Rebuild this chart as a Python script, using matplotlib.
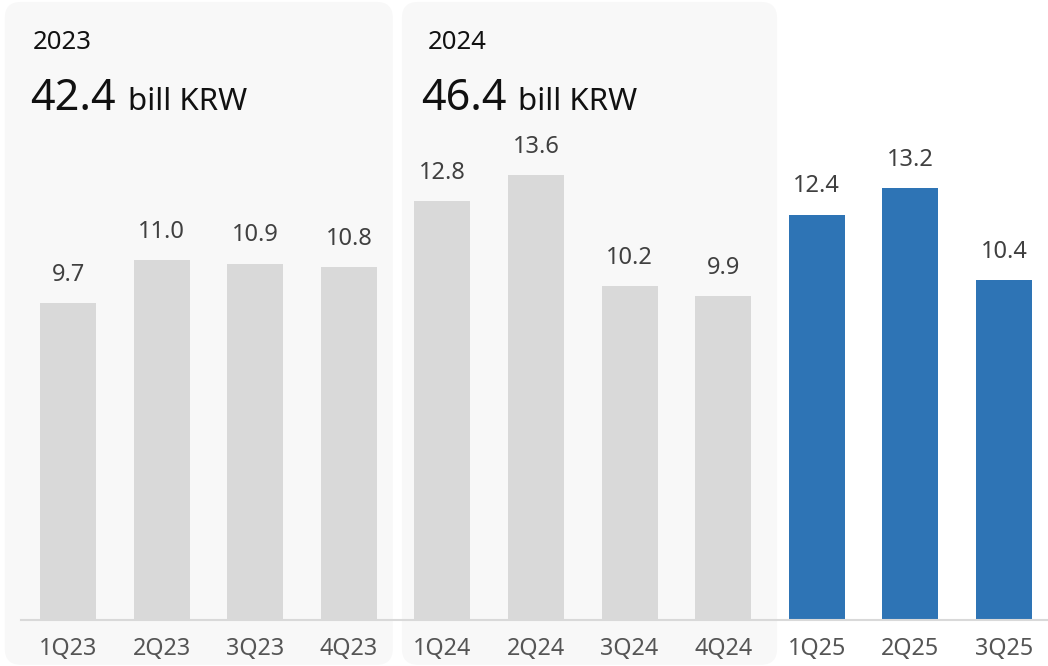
import matplotlib.pyplot as plt
from matplotlib.patches import FancyBboxPatch

plt.rcParams['font.family'] = ['Noto Sans', 'DejaVu Sans']

quarters = ['1Q23', '2Q23', '3Q23', '4Q23', '1Q24', '2Q24', '3Q24', '4Q24',
            '1Q25', '2Q25', '3Q25']
revenue = [9.7, 11.0, 10.9, 10.8, 12.8, 13.6, 10.2, 9.9, 12.4, 13.2, 10.4]
years = ['2023', '2024']
year_totals = ['42.4', '46.4']

GREY = '#d9d9d9'
BLUE = '#2e74b5'
W, H = 1048, 666

fig = plt.figure(figsize=(W / 100, H / 100), dpi=100)
ax = fig.add_axes([0, 0, 1, 1])
ax.set_xlim(-0.7265, 10.47)
ax.set_ylim(-1.407, 18.96)
ax.axis('off')

# pixels per data unit, used to keep the rounded corners round
px_x = W / (10.47 + 0.7265)
px_y = H / (18.96 + 1.407)
aspect = px_x / px_y

# background panels for the full years
for x0, x1 in [(-0.675, 3.47), (3.568, 7.575)]:
    panel = FancyBboxPatch((x0, -1.37), x1 - x0, 18.9 - (-1.37),
                           boxstyle='round,pad=0,rounding_size=0.17',
                           mutation_aspect=aspect,
                           facecolor='#f8f8f8', edgecolor='none', zorder=0)
    ax.add_patch(panel)

x = list(range(len(quarters)))
colors = [BLUE if q.endswith('25') else GREY for q in quarters]
bars = ax.bar(x, revenue, width=0.6, color=colors, zorder=2)

for b, v in zip(bars, revenue):
    ax.annotate(f'{v:.1f}', (b.get_x() + b.get_width() / 2, v),
                xytext=(0, 16), textcoords='offset points',
                ha='center', va='baseline', fontsize=17, color='#404040')

# baseline
ax.plot([-0.5, 10.47], [0, 0], color='#d9d9d9', lw=1.5, zorder=3)

for xi, q in zip(x, quarters):
    ax.annotate(q, (xi, 0), xytext=(0, -25.2), textcoords='offset points',
                ha='center', va='baseline', fontsize=16.8, color='#555555')

# year headers (pixel positions of the reference layout)
headers = [(33, 30, 128), (428, 421, 518)]
for (yx, tx, ux), yr, tot in zip(headers, years, year_totals):
    fig.text(yx / W, 1 - 49 / H, yr, fontsize=18.5, color='#111111',
             ha='left', va='baseline')
    fig.text(tx / W, 1 - 110 / H, tot, fontsize=31, color='#111111',
             ha='left', va='baseline')
    fig.text(ux / W, 1 - 110 / H, 'bill KRW', fontsize=22.5, color='#111111',
             ha='left', va='baseline')

fig.savefig('out.png', dpi=100)
